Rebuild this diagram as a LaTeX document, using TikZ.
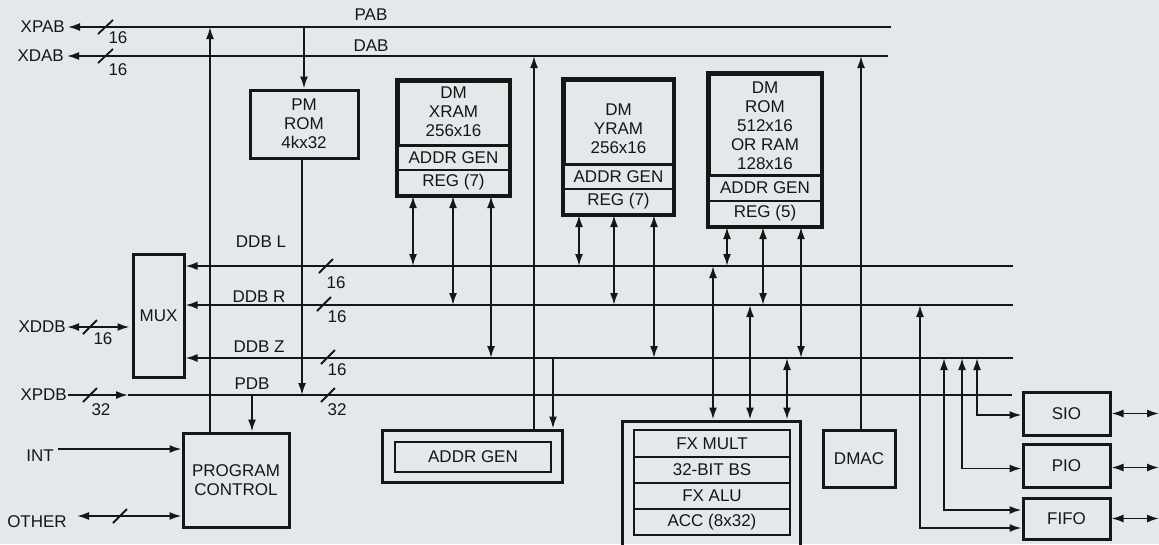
\documentclass[tikz,border=0pt]{standalone}
\usepackage{fontspec}
\setmainfont{Liberation Sans}
\usetikzlibrary{arrows.meta}
\definecolor{bg}{RGB}{227,232,235}
\definecolor{ink}{RGB}{22,22,22}
\begin{document}
\begin{tikzpicture}[x=1pt,y=-1pt,
  font=\fontsize{17}{19}\selectfont,
  box/.style={draw=ink, line width=3pt, inner sep=0pt, align=center, text=ink},
  sub/.style={draw=ink, line width=2.2pt, inner sep=0pt, align=center, text=ink},
  bus/.style={draw=ink, line width=1.8pt},
  arr/.style={bus, -{Latex[length=12pt,width=8pt]}},
  darr/.style={bus, {Latex[length=12pt,width=8pt]}-{Latex[length=12pt,width=8pt]}},
  lbl/.style={inner sep=0pt, text=ink, align=center},
  slash/.style={draw=ink, line width=1.8pt}]
\fill[bg] (0,0) rectangle (1159,544);
\useasboundingbox (0,0) rectangle (1159,544);
\clip (0,0) rectangle (1159,544);

% ---------- bus end coordinates ----------
\coordinate (pabE) at (891,27);
\coordinate (dabE) at (888,56);
\coordinate (LE) at (1013,266);
\coordinate (RE) at (1013,305);
\coordinate (ZE) at (1013,358);
\coordinate (PE) at (1012,395);
\coordinate (pdbArrow) at (128,395);
\coordinate (edge) at (1159,0);

% ---------- left labels ----------
\node[lbl, anchor=east] (xpab) at (65,27) {XPAB};
\node[lbl, anchor=east] (xdab) at (64,56) {XDAB};
\node[lbl, anchor=east] (xddb) at (66,327) {XDDB};
\node[lbl, anchor=east] (xpdb) at (67,395) {XPDB};
\node[lbl] (int) at (40,456) {INT};
\node[lbl] (other) at (37,522) {OTHER};
\coordinate (intS) at (58,449);
\coordinate (othS) at (77,516);

% ---------- boxes ----------
\node[box, minimum width=108pt, minimum height=68pt] (pmrom) at (304,124) {PM\\ROM\\4kx32};

\node[box, minimum width=111pt, minimum height=64pt] (xtop) at (453.5,113) {};
\node[lbl] (xtxt) at (453.5,112) {DM\\XRAM\\256x16};
\node[sub, minimum width=111pt, minimum height=25pt] (xag) at (453.5,157.5) {ADDR GEN};
\node[sub, minimum width=111pt, minimum height=25pt] (xreg) at (453.5,182.5) {REG (7)};
\draw[ink, line width=3pt] (xtop.north west) rectangle (xreg.south east);

\node[box, minimum width=109pt, minimum height=84pt] (ytop) at (618.5,122) {};
\node[lbl] (ytxt) at (618.5,129) {DM\\YRAM\\256x16};
\node[sub, minimum width=109pt, minimum height=25pt] (yag) at (618.5,176.5) {ADDR GEN};
\node[sub, minimum width=109pt, minimum height=25pt] (yreg) at (618.5,201.5) {REG (7)};
\draw[ink, line width=3pt] (ytop.north west) rectangle (yreg.south east);

\node[box, minimum width=112pt, minimum height=101pt] (rtop) at (765,124.5) {};
\node[lbl] (rtxt) at (765,125.5) {DM\\ROM\\512x16\\OR RAM\\128x16};
\node[sub, minimum width=112pt, minimum height=26pt] (rag) at (765,188) {ADDR GEN};
\node[sub, minimum width=112pt, minimum height=25pt] (rreg) at (765,213.5) {REG (5)};
\draw[ink, line width=3pt] (rtop.north west) rectangle (rreg.south east);

\node[box, minimum width=51pt, minimum height=123pt] (mux) at (158.5,315.5) {MUX};
\node[box, minimum width=106pt, minimum height=94pt] (pc) at (236,480) {PROGRAM\\CONTROL};

\node[box, minimum width=180pt, minimum height=52pt] (ag) at (472,456) {};
\node[sub, minimum width=156pt, minimum height=30pt] (agin) at (473,457) {ADDR GEN};

\node[box, minimum width=178pt, minimum height=139pt] (fx) at (711,490.5) {};
\node[sub, minimum width=156pt, minimum height=27pt] (fx1) at (712,443.5) {FX MULT};
\node[sub, minimum width=156pt, minimum height=26pt] (fx2) at (712,470) {32-BIT BS};
\node[sub, minimum width=156pt, minimum height=26pt] (fx3) at (712,496) {FX ALU};
\node[sub, minimum width=156pt, minimum height=26pt] (fx4) at (712,522) {ACC (8x32)};

\node[box, minimum width=72pt, minimum height=57pt] (dmac) at (859,458.5) {DMAC};
\node[box, minimum width=87pt, minimum height=43pt] (sio) at (1066.5,413.5) {SIO};
\node[box, minimum width=87pt, minimum height=43pt] (pio) at (1066.5,465.5) {PIO};
\node[box, minimum width=87pt, minimum height=41pt] (fifo) at (1066.5,518.5) {FIFO};

% ---------- buses ----------
\draw[arr] (pabE) -- ([xshift=3pt]xpab.east |- pabE);
\draw[arr] (dabE) -- ([xshift=3pt]xdab.east |- dabE);
\draw[arr] (LE) -- (LE -| mux.east);
\draw[arr] (RE) -- (RE -| mux.east);
\draw[arr] (ZE) -- (ZE -| mux.east);
\draw[arr] ([xshift=1pt]xpdb.east) -- (pdbArrow);
\draw[bus] (pdbArrow) -- (PE);
\draw[darr] ([xshift=1pt]xddb.east) -- ([xshift=-2pt]xddb.east -| mux.west);
\draw[arr] (intS) -- (intS -| pc.west);
\draw[darr] (othS) -- (othS -| pc.west);

% bus labels
\node[lbl] (labPAB) at (371,15) {PAB};
\node[lbl] (labDAB) at (371,46) {DAB};
\node[lbl] (labL) at (261,242) {DDB L};
\node[lbl] (labR) at (259,297) {DDB R};
\node[lbl] (labZ) at (259,347) {DDB Z};
\node[lbl] (labP) at (252,384) {PDB};

% width slashes and numbers
\draw[slash] (98,34) -- (113,20);
\node[lbl] (n1) at (118,38) {16};
\draw[slash] (98,63) -- (113,49);
\node[lbl] (n2) at (118,70) {16};
\draw[slash] (83,334) -- (97,320);
\node[lbl] (n3) at (103,339) {16};
\draw[slash] (83,402) -- (97,388);
\node[lbl] (n4) at (101,410) {32};
\draw[slash] (113,523) -- (127,509);
\draw[slash] (319,273) -- (333,259);
\node[lbl] (n5) at (336,283) {16};
\draw[slash] (317,311) -- (331,297);
\node[lbl] (n6) at (337,317) {16};
\draw[slash] (321,364) -- (335,350);
\node[lbl] (n7) at (337,370) {16};
\draw[slash] (321,402) -- (335,388);
\node[lbl] (n8) at (337,410) {32};

% ---------- verticals ----------
\draw[arr] ([xshift=-26pt]pc.north) -- ([xshift=-26pt]pc.north |- pabE);
\draw[arr] (pmrom.north |- pabE) -- (pmrom.north);
\draw[arr] ([xshift=-2pt]pmrom.south) -- ([xshift=-2pt]pmrom.south |- PE);
\draw[arr] ([xshift=16pt]pc.north |- PE) -- ([xshift=16pt]pc.north);

% XRAM
\draw[darr] ([xshift=-40.5pt]xreg.south) -- ([xshift=-40.5pt]xreg.south |- LE);
\draw[darr] ([xshift=-0.5pt]xreg.south) -- ([xshift=-0.5pt]xreg.south |- RE);
\draw[darr] ([xshift=37.5pt]xreg.south) -- ([xshift=37.5pt]xreg.south |- ZE);
% YRAM
\draw[darr] ([xshift=-39.5pt]yreg.south) -- ([xshift=-39.5pt]yreg.south |- LE);
\draw[darr] ([xshift=-4.5pt]yreg.south) -- ([xshift=-4.5pt]yreg.south |- RE);
\draw[darr] ([xshift=35.5pt]yreg.south) -- ([xshift=35.5pt]yreg.south |- ZE);
% DM ROM
\draw[darr] ([xshift=-38pt]rreg.south) -- ([xshift=-38pt]rreg.south |- LE);
\draw[darr] ([xshift=-2pt]rreg.south) -- ([xshift=-2pt]rreg.south |- RE);
\draw[darr] ([xshift=36pt]rreg.south) -- ([xshift=36pt]rreg.south |- ZE);
% FX
\draw[darr] ([xshift=2pt]fx.north) -- ([xshift=2pt]fx.north |- LE);
\draw[darr] ([xshift=39pt]fx.north) -- ([xshift=39pt]fx.north |- RE);
\draw[darr] ([xshift=76pt]fx.north) -- ([xshift=76pt]fx.north |- ZE);
% ADDR GEN
\draw[arr] ([xshift=81pt]ag.north |- ZE) -- ([xshift=81pt]ag.north);
\draw[arr] ([xshift=62pt]ag.north) -- ([xshift=62pt]ag.north |- dabE);
% DMAC
\draw[arr] ([xshift=2pt]dmac.north) -- ([xshift=2pt]dmac.north |- dabE);

% I/O
\coordinate (t1) at (920,305);
\coordinate (t2) at (944,358);
\coordinate (t3) at (962,358);
\coordinate (t4) at (977,358);
\draw[darr] (t1) |- ([yshift=-9.5pt]fifo.west);
\draw[darr] (t2) |- ([yshift=8.5pt]fifo.west);
\draw[darr] (t3) |- ([yshift=-3pt]pio.west);
\draw[darr] (t4) |- ([yshift=-1.5pt]sio.west);
\draw[darr] (sio.east) -- (sio.east -| edge);
\draw[darr] ([yshift=-2pt]pio.east) -- ([yshift=-2pt]pio.east -| edge);
\draw[darr] (fifo.east) -- (fifo.east -| edge);
\end{tikzpicture}
\end{document}
